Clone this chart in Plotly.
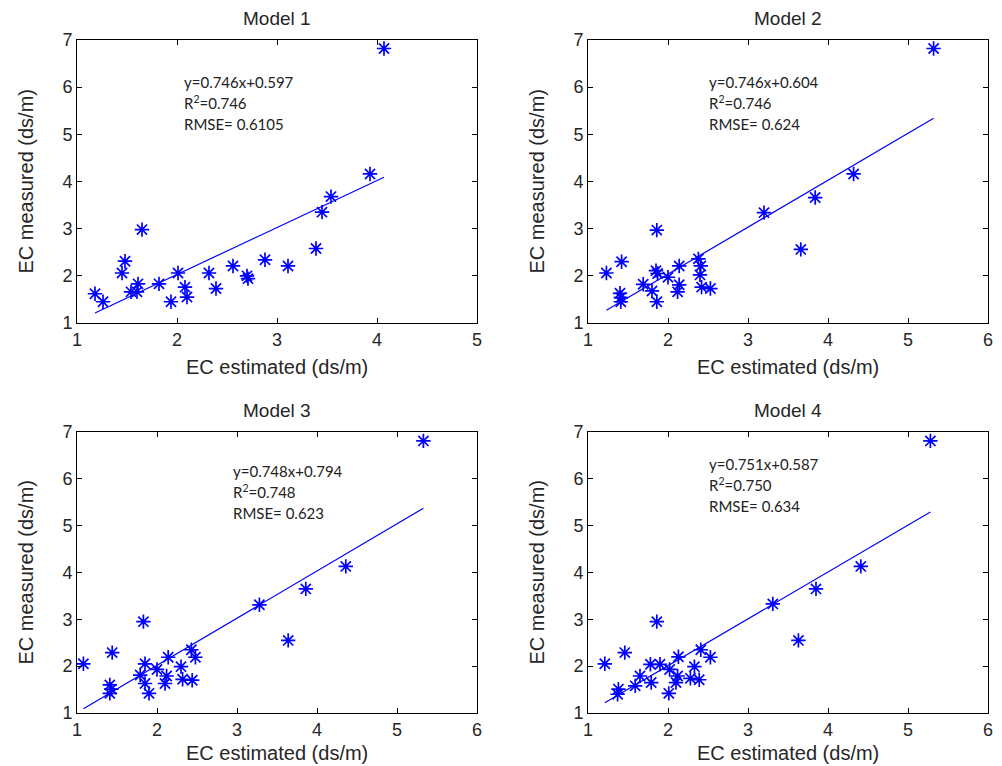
import plotly.graph_objects as go

OFF = 8  # page body margin
W, H = 1002 - OFF, 766 - OFF
ML, MR, MT, MB = 10, 10, 10, 10
PW, PH = W - ML - MR, H - MT - MB

model_titles = ["Model 1", "Model 2", "Model 3", "Model 4"]

m1_x = [4.07, 3.93, 3.54, 3.45, 3.39, 3.11, 2.88, 2.70, 2.71, 2.56, 2.32, 2.39, 2.01, 2.08, 2.10, 1.94, 1.82, 1.65, 1.48, 1.45, 1.61, 1.60, 1.54, 1.18, 1.26]
m1_y = [6.82, 4.16, 3.68, 3.35, 2.58, 2.21, 2.34, 2.00, 1.94, 2.21, 2.06, 1.73, 2.06, 1.76, 1.55, 1.45, 1.83, 2.98, 2.31, 2.06, 1.83, 1.66, 1.66, 1.62, 1.45]

m2_x = [5.32, 4.32, 3.84, 3.20, 3.66, 1.86, 1.42, 1.23, 1.40, 1.41, 1.41, 1.69, 1.80, 1.86, 1.85, 1.87, 2.00, 2.14, 2.14, 2.12, 2.38, 2.41, 2.40, 2.42, 2.53]
m2_y = [6.82, 4.16, 3.66, 3.34, 2.56, 2.97, 2.30, 2.06, 1.63, 1.54, 1.45, 1.82, 1.68, 1.45, 2.11, 2.05, 1.97, 2.21, 1.81, 1.66, 2.36, 2.21, 2.02, 1.76, 1.73]

m3_x = [5.33, 4.36, 3.86, 3.28, 3.64, 1.83, 1.44, 1.08, 1.41, 1.43, 1.41, 1.79, 1.85, 1.85, 1.90, 2.00, 2.12, 2.10, 2.14, 2.30, 2.32, 2.44, 2.43, 2.48]
m3_y = [6.81, 4.13, 3.65, 3.31, 2.55, 2.95, 2.29, 2.05, 1.60, 1.51, 1.42, 1.81, 2.05, 1.63, 1.42, 1.93, 1.79, 1.63, 2.19, 1.99, 1.72, 1.70, 2.35, 2.19]

m4_x = [5.28, 4.41, 3.85, 3.31, 3.63, 1.86, 1.46, 1.21, 1.38, 1.37, 1.59, 1.65, 1.78, 1.79, 1.90, 2.02, 2.01, 2.13, 2.12, 2.10, 2.28, 2.33, 2.39, 2.41, 2.53]
m4_y = [6.81, 4.13, 3.65, 3.33, 2.55, 2.95, 2.29, 2.05, 1.51, 1.40, 1.58, 1.79, 2.04, 1.65, 2.04, 1.93, 1.42, 2.20, 1.79, 1.65, 1.74, 1.99, 1.71, 2.35, 2.19]

# fitted line drawn in each panel
fit_slope = [0.997, 0.995, 1.008, 1.000]
fit_intercept = [0.034, 0.046, 0.0, 0.01]

eq_text = ["y=0.746x+0.597", "y=0.746x+0.604", "y=0.748x+0.794", "y=0.751x+0.587"]
r2_text = ["0.746", "0.746", "0.748", "0.750"]
rmse_text = ["0.6105", "0.624", "0.623", "0.634"]
text_pos_x = [2.05, 2.49, 2.93, 2.49]
text_pos_y = [6.11, 6.11, 6.17, 6.32]

x_max = [5, 6, 6, 6]
x_ticks = [[1, 2, 3, 4, 5], [1, 2, 3, 4, 5, 6], [1, 2, 3, 4, 5, 6], [1, 2, 3, 4, 5, 6]]
y_ticks = [1, 2, 3, 4, 5, 6, 7]

xs = [m1_x, m2_x, m3_x, m4_x]
ys = [m1_y, m2_y, m3_y, m4_y]

# pixel boxes on screen (left, right, top, bottom)
boxes = [(77, 477, 40, 323), (588, 988, 40, 323), (77, 477, 432, 713), (588, 988, 432, 713)]
xtitle_gap = [44, 44, 40, 40]


def dx(px):
    return (px - OFF - ML) / PW


def dy(py):
    return 1 - (py - OFF - MT) / PH


fig = go.Figure()
blue = "#0000ff"
txt = "#262626"

for i in range(4):
    ax = "" if i == 0 else str(i + 1)
    fig.add_trace(go.Scatter(
        x=xs[i], y=ys[i], mode="markers",
        marker=dict(symbol="asterisk-open", size=12, color=blue, line=dict(color=blue, width=1.7)),
        xaxis="x" + ax, yaxis="y" + ax, showlegend=False, cliponaxis=False))
    x0, x1 = min(xs[i]), max(xs[i])
    fig.add_trace(go.Scatter(
        x=[x0, x1], y=[fit_slope[i] * x0 + fit_intercept[i], fit_slope[i] * x1 + fit_intercept[i]],
        mode="lines", line=dict(color=blue, width=1.2),
        xaxis="x" + ax, yaxis="y" + ax, showlegend=False))

    l, r, t, b = boxes[i]
    common = dict(showgrid=False, zeroline=False, showline=True, linecolor="#000", linewidth=1,
                  mirror="ticks", ticks="inside", ticklen=5, tickcolor="#000", automargin=False,
                  tickfont=dict(family="Liberation Sans, Arial", size=18, color=txt))
    fig.layout["xaxis" + ax] = dict(domain=[dx(l), dx(r)], range=[1, x_max[i]], tickvals=x_ticks[i],
                                   anchor="y" + ax, **common)
    fig.layout["yaxis" + ax] = dict(domain=[dy(b), dy(t)], range=[1, 7], tickvals=y_ticks,
                                   anchor="x" + ax, **common)

    annos = []
    cx = (l + r) / 2
    annos.append(dict(text=model_titles[i], x=dx(cx), y=dy(t - 22), xref="paper", yref="paper",
                      showarrow=False, xanchor="center", yanchor="middle",
                      font=dict(family="Liberation Sans, Arial", size=19, color=txt)))
    annos.append(dict(text="EC estimated (ds/m)", x=dx(cx), y=dy(b + xtitle_gap[i]), xref="paper",
                      yref="paper", showarrow=False, xanchor="center", yanchor="middle",
                      font=dict(family="Liberation Sans, Arial", size=20, color=txt)))
    annos.append(dict(text="EC measured (ds/m)", x=dx(l - 52), y=dy((t + b) / 2), xref="paper",
                      yref="paper", showarrow=False, xanchor="center", yanchor="middle", textangle=-90,
                      font=dict(family="Liberation Sans, Arial", size=20, color=txt)))
    lines = [eq_text[i], "R<sup>2</sup>=" + r2_text[i], "RMSE= " + rmse_text[i]]
    for k, s in enumerate(lines):
        annos.append(dict(text=s, x=text_pos_x[i], y=text_pos_y[i], xref="x" + ax, yref="y" + ax,
                          showarrow=False, xanchor="left", yanchor="middle", yshift=-21 * k,
                          font=dict(family="Lato, Open Sans", size=15, color="#222")))
    for a in annos:
        fig.add_annotation(**a)

fig.update_layout(width=W, height=H, margin=dict(l=ML, r=MR, t=MT, b=MB, autoexpand=False),
                  paper_bgcolor="white", plot_bgcolor="white")

fig.write_html("out.html")
